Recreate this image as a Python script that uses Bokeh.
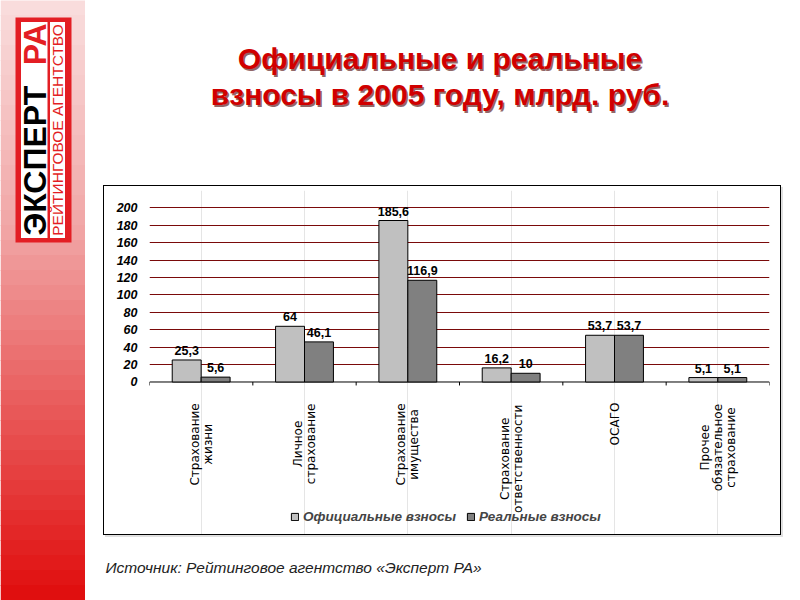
import math
from bokeh.plotting import figure
from bokeh.layouts import row, column
from bokeh.models import (Range1d, FactorRange, FixedTicker, ColumnDataSource,
                          Legend, LegendItem, Spacer)
from bokeh.transform import dodge
from bokeh.core.properties import value
from bokeh.embed import file_html
from bokeh.resources import INLINE

# ---------------- data ----------------
categories = ["Страхование\nжизни", "Личное\nстрахование", "Страхование\nимущества",
              "Страхование\nответственности", "ОСАГО", "Прочее\nобязательное\nстрахование"]
official = [25.3, 64, 185.6, 16.2, 53.7, 5.1]
real = [5.6, 46.1, 116.9, 10, 53.7, 5.1]
series_names = ["Официальные взносы", "Реальные взносы"]
y_ticks = [0, 20, 40, 60, 80, 100, 120, 140, 160, 180, 200]
title_lines = ["Официальные и реальные", "взносы в 2005 году, млрд. руб."]
source_text = "Источник: Рейтинговое агентство «Эксперт РА»"
logo_main = "ЭКСПЕРТ"
logo_red = "РА"
logo_sub = "РЕЙТИНГОВОЕ АГЕНТСТВО"

FONT = "Liberation Sans"
RED = "#e31e24"
CAT_FS = 12
CAT_STEP = 13.2


def fmt(v):
    return ("%g" % v).replace(".", ",")


def est_len(line, fs=CAT_FS):
    # rough advance-width estimate for DejaVu Sans, used to hang the rotated blocks under the axis
    return sum((0.70 if ch.isupper() else 0.62) * fs for ch in line)


def blank(w, h, xr, yr):
    f = figure(width=w, height=h, x_range=Range1d(*xr), y_range=Range1d(*yr),
               output_backend="svg", toolbar_location=None, min_border=0,
               x_axis_location=None, y_axis_location=None)
    f.outline_line_color = None
    f.grid.visible = False
    f.background_fill_color = "white"
    f.border_fill_color = "white"
    return f


# ---------------- left strip with logo (page coords x 0..85, y 0..600) ----------------
strip = blank(85, 600, (0, 85), (600, 0))
stops = [(0, (249, 222, 222)), (230, (241, 165, 165)), (420, (232, 85, 85)), (600, (224, 12, 12))]
nb = 40
tops, bottoms, colors = [], [], []
for i in range(nb):
    y0b, y1b = i * 600 / nb, (i + 1) * 600 / nb
    yc = (y0b + y1b) / 2
    for (a0, c0), (a1, c1) in zip(stops[:-1], stops[1:]):
        if a0 <= yc <= a1:
            t = (yc - a0) / (a1 - a0)
            c = tuple(int(round(u + (v - u) * t)) for u, v in zip(c0, c1))
            break
    tops.append(y0b - 0.5)
    bottoms.append(y1b + 0.5)
    colors.append("#%02x%02x%02x" % c)
strip.quad(left=0, right=85, top=tops, bottom=bottoms, fill_color=colors, line_color=None)
strip.quad(left=[15, 20.5, 49.5], right=[71, 47, 64.5], top=[17, 21.5, 21.5], bottom=[242, 237.5, 237.5],
           fill_color=[RED, "white", "white"], line_color=None)
strip.text(x=[34], y=[235], text=[logo_main], angle=math.pi / 2, text_align="left",
           text_baseline="middle", text_font=value(FONT), text_font_style="bold",
           text_font_size="32px", text_color="black")
strip.text(x=[34], y=[23], text=[logo_red], angle=math.pi / 2, text_align="right",
           text_baseline="middle", text_font=value(FONT), text_font_style="bold",
           text_font_size="32px", text_color=RED)
strip.text(x=[57], y=[129.5], text=[logo_sub], angle=math.pi / 2, text_align="center",
           text_baseline="middle", text_font=value(FONT), text_font_size="15.5px",
           text_color=RED)

# ---------------- title ----------------
title_fig = blank(715, 185, (85, 800), (185, 0))
title_fig.text(x=[441, 441], y=[59.5, 95.5], text=title_lines, text_align="center",
               text_baseline="alphabetic", text_font=value(FONT), text_font_style="bold",
               text_font_size="30px", text_color="#4a0000", text_alpha=0.6)
title_fig.text(x=[439.5, 439.5], y=[58, 94], text=title_lines, text_align="center",
               text_baseline="alphabetic", text_font=value(FONT), text_font_style="bold",
               text_font_size="30px", text_color="#d00000")

# ---------------- chart ----------------
p = figure(width=678, height=350, output_backend="svg", toolbar_location=None,
           x_range=FactorRange(factors=categories), y_range=Range1d(-177.6, 220.1),
           x_axis_location=None, min_border_left=45, min_border_right=13,
           min_border_top=4, min_border_bottom=0,
           styles={"border": "1px solid black", "box-shadow": "2px 2px 0 #e0e0e0"})
p.outline_line_color = None
p.background_fill_color = "white"
p.border_fill_color = "white"

p.yaxis.ticker = FixedTicker(ticks=y_ticks)
p.yaxis.axis_line_color = None
p.yaxis.major_tick_line_color = None
p.yaxis.major_tick_out = 0
p.yaxis.major_tick_in = 0
p.yaxis.minor_tick_line_color = None
p.yaxis.major_label_standoff = 12
p.yaxis.major_label_text_font = FONT
p.yaxis.major_label_text_font_size = "12.5px"
p.yaxis.major_label_text_font_style = "bold italic"
p.yaxis.major_label_text_color = "black"
p.ygrid.ticker = FixedTicker(ticks=y_ticks[1:])
p.ygrid.grid_line_color = "#7a0a0a"
p.ygrid.grid_line_width = 1

# baseline and category boundary ticks
ncat = len(categories)
p.segment(x0=[0], y0=[0], x1=[ncat], y1=[0], line_color="black", line_width=1)
bounds = list(range(ncat + 1))
p.segment(x0=bounds, y0=[0] * len(bounds), x1=bounds, y1=[-4] * len(bounds),
          line_color="black", line_width=1)

src = ColumnDataSource(dict(
    cat=categories, official=official, real=real,
    off_lbl=[fmt(v) for v in official], real_lbl=[fmt(v) for v in real],
))
bw = 0.28
r1 = p.vbar(x=dodge("cat", -bw / 2, range=p.x_range), top="official", width=bw, source=src,
            fill_color="#c0c0c0", line_color="black", line_width=1)
r2 = p.vbar(x=dodge("cat", bw / 2, range=p.x_range), top="real", width=bw, source=src,
            fill_color="#808080", line_color="black", line_width=1)
for col, lbl, off in (("official", "off_lbl", -bw / 2), ("real", "real_lbl", bw / 2)):
    p.text(x=dodge("cat", off, range=p.x_range), y=col, text=lbl, source=src,
           text_align="center", text_baseline="bottom", y_offset=-5,
           text_font=value(FONT), text_font_style="bold", text_font_size="12.5px",
           text_color="black")

# category labels: rotated, hanging below the axis, each line centred on the block
lc, lt, lxo, lyo, lz = [], [], [], [], []
for c in categories:
    lines = c.split("\n")
    hang = 21 + max(est_len(s) for s in lines) / 2
    n = len(lines)
    for k, s in enumerate(lines):
        lc.append(c)
        lt.append(s)
        lxo.append((k - (n - 1) / 2) * CAT_STEP)
        lyo.append(hang)
        lz.append(0)
cat_src = ColumnDataSource(dict(cat=lc, text=lt, xo=lxo, yo=lyo, zero=lz))
p.text(x="cat", y="zero", text="text", source=cat_src, angle=math.pi / 2,
       text_align="center", text_baseline="middle", x_offset="xo", y_offset="yo",
       text_font=value("DejaVu Sans"), text_font_size="%dpx" % CAT_FS, text_color="black")

legend = Legend(items=[LegendItem(label=series_names[0], renderers=[r1]),
                       LegendItem(label=series_names[1], renderers=[r2])],
                orientation="horizontal", location=(141, 12))
legend.glyph_width = 9
legend.glyph_height = 9
legend.label_text_font = FONT
legend.label_text_font_size = "13.5px"
legend.label_text_font_style = "bold italic"
legend.label_standoff = 4
legend.spacing = 10
legend.padding = 0
legend.margin = 0
legend.border_line_color = None
legend.background_fill_alpha = 0
p.add_layout(legend)

# ---------------- source ----------------
src_fig = blank(715, 63, (85, 800), (600, 537))
src_fig.text(x=[105], y=[567], text=[source_text], text_align="left", text_baseline="alphabetic",
             text_font=value(FONT), text_font_style="italic", text_font_size="15.5px",
             text_color="#222222")

mid = row(Spacer(width=18, height=352), p, Spacer(width=17, height=352))
right = column(title_fig, mid, src_fig)
layout = row(strip, right)

open("out.html", "w").write(file_html(layout, INLINE))
